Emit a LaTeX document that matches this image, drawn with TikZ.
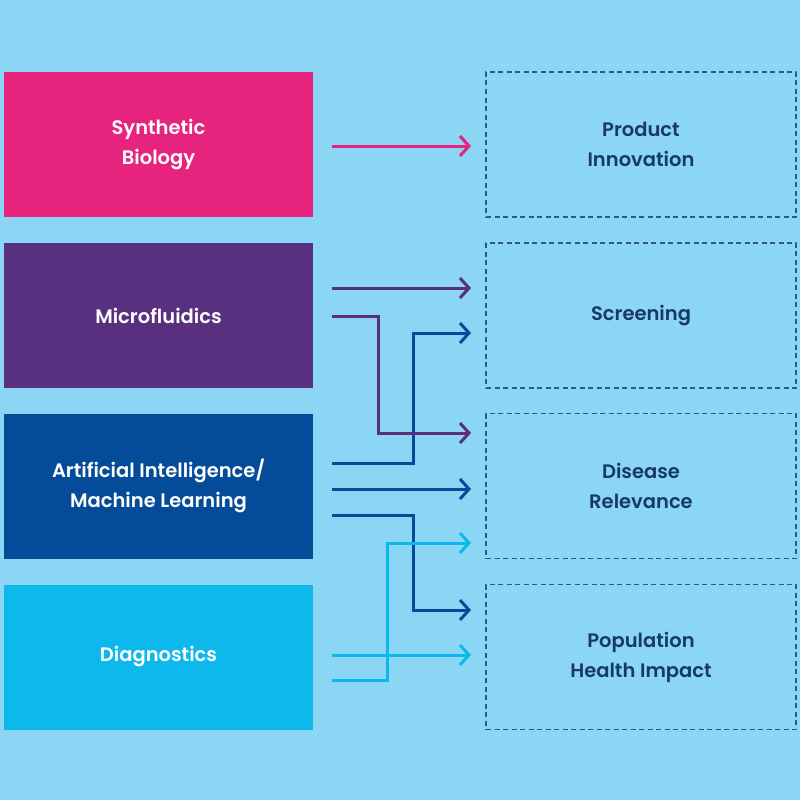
\documentclass[tikz,border=0pt]{standalone}
\usepackage{fontspec}
\setmainfont{Poppins}[UprightFont=*-SemiBold,BoldFont=*-Bold]
\usetikzlibrary{arrows.meta}
\definecolor{bg}{HTML}{8CD6F5}
\definecolor{cpink}{HTML}{E6247D}
\definecolor{cpurple}{HTML}{59307F}
\definecolor{cblue}{HTML}{044C99}
\definecolor{ccyan}{HTML}{0DB8EC}
\definecolor{cnavy}{HTML}{17386A}
\definecolor{cdash}{HTML}{2E5A80}
\tikzset{
  srcbox/.style={minimum width=309pt,minimum height=145pt,inner sep=0pt,text=white,align=center,font=\fontsize{19.5}{30}\selectfont},
  tgtbox/.style={minimum width=310pt,minimum height=145pt,inner sep=0pt,draw=cdash,line width=1.1pt,dash pattern=on 5pt off 3.5pt,text=cnavy,align=center,font=\fontsize{19.5}{30}\selectfont},
  conn/.style={line width=3pt,-{Straight Barb[length=9pt,width=20pt,line width=3pt]}},
}
\begin{document}
\begin{tikzpicture}[x=1pt,y=-1pt]
\fill[bg] (0,0) rectangle (800,800);
\useasboundingbox (0,0) rectangle (800,800);
\node[srcbox,fill=cpink] (l1) at (158.5,144.5) {Synthetic\\Biology};
\node[srcbox,fill=cpurple] (l2) at (158.5,315.5) {Microfluidics};
\node[srcbox,fill=cblue] (l3) at (158.5,486) {Artificial Intelligence/\\Machine Learning};
\node[srcbox,fill=ccyan] (l4) at (158.5,657) {Diagnostics};
\node[tgtbox] (r1) at (641,144.5) {Product\\Innovation};
\node[tgtbox] (r2) at (641,315.5) {\vphantom{Product}Screening};
\node[tgtbox] (r3) at (641,486) {Disease\\Relevance};
\node[tgtbox] (r4) at (641,657) {Population\\Health Impact};
% start and end points
\coordinate (s1) at (332,146);
\coordinate (e1) at (471,146);
\coordinate (s2) at (332,288);
\coordinate (e2) at (471,288);
\coordinate (s3) at (332,316);
\coordinate (e3) at (471,433);
\coordinate (s4) at (332,463);
\coordinate (e4) at (471,333);
\coordinate (s5) at (332,489);
\coordinate (e5) at (471,489);
\coordinate (s6) at (332,515);
\coordinate (e6) at (471,610);
\coordinate (s7) at (332,680);
\coordinate (e7) at (471,543);
\coordinate (s8) at (332,655);
\coordinate (e8) at (471,655);
\draw[conn,cpink] (s1) -- (e1);
\draw[conn,cpurple] (s2) -- (e2);
\draw[conn,cblue] (s4) -- (413,463) -- (413,333) -- (e4);
\draw[conn,cpurple] (s3) -- (378,316) -- (378,433) -- (e3);
\draw[conn,cblue] (s5) -- (e5);
\draw[conn,cblue] (s6) -- (413,515) -- (413,610) -- (e6);
\draw[conn,ccyan] (s7) -- (387,680) -- (387,543) -- (e7);
\draw[conn,ccyan] (s8) -- (e8);
\end{tikzpicture}
\end{document}
